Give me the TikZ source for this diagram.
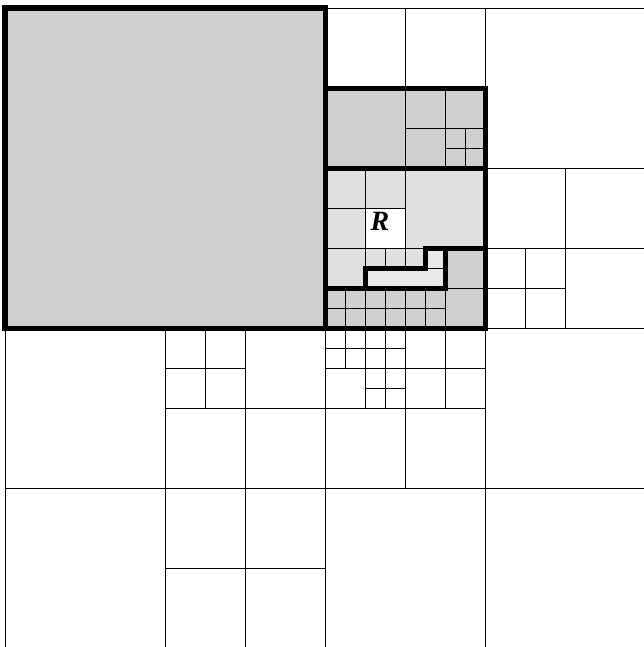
\documentclass[tikz,border=0pt]{standalone}
\usepackage{fontspec}
\newfontfamily\labelfont{Liberation Serif}
\definecolor{darkcell}{gray}{0.815}
\definecolor{lightcell}{gray}{0.88}
\definecolor{palecell}{gray}{0.915}
\begin{document}
\begin{tikzpicture}[
  x=20bp,y=-20bp,
  cell/.style={draw=black,line width=1bp},
  region/.style={draw=black,line width=5bp,line join=miter},
  lbl/.style={font=\labelfont\bfseries\itshape\fontsize{28}{28}\selectfont,inner sep=0pt}
]
  \useasboundingbox (-0.25,-0.4) rectangle (31.95,31.95);

  \fill[darkcell] (0,0) rectangle (16,16);
  \fill[darkcell] (16,4) rectangle (24,8);
  \fill[lightcell] (16,8) rectangle (24,14);
  \fill[darkcell] (16,14) -- (22,14) -- (22,12) -- (24,12) -- (24,16) -- (16,16) -- cycle;
  \fill[palecell] (18,13) -- (21,13) -- (21,12) -- (22,12) -- (22,14) -- (18,14) -- cycle;
  \fill[white] (18,10) rectangle (20,12);

  \foreach \x/\y/\s in {24/0/8,0/16/8,0/24/8,24/16/8,16/24/8,24/24/8,
      16/0/4,20/0/4,16/4/4,20/8/4,24/8/4,28/8/4,28/12/4,12/16/4,8/20/4,12/20/4,
      8/24/4,12/24/4,8/28/4,12/28/4,16/20/4,20/20/4,
      20/4/2,22/4/2,20/6/2,16/8/2,18/8/2,16/10/2,18/10/2,16/12/2,22/12/2,22/14/2,
      24/12/2,26/12/2,24/14/2,26/14/2,8/16/2,10/16/2,8/18/2,10/18/2,16/18/2,
      20/16/2,22/16/2,20/18/2,22/18/2}
    \draw[cell] (\x,\y) rectangle +(\s,\s);
  \foreach \x/\y in {22/6,23/6,22/7,23/7,18/12,19/12,20/12,21/12,18/18,19/18,18/19,19/19}
    \draw[cell] (\x,\y) rectangle +(1,1);
  \foreach \x in {16,...,21}
    \foreach \y in {14,15}
      \draw[cell] (\x,\y) rectangle +(1,1);
  \foreach \x in {16,...,19}
    \foreach \y in {16,17}
      \draw[cell] (\x,\y) rectangle +(1,1);

  \draw[region] (0,0) rectangle (16,16);
  \draw[region] (16,4) rectangle (24,8);
  \draw[region] (16,8) rectangle (24,16);
  \draw[region] (16,14) -- (22,14) -- (22,12) -- (24,12);
  \draw[region] (22,12) -- (21,12) -- (21,13) -- (18,13) -- (18,14);

  \node[lbl] (r) at (18.75,10.65) {R};
\end{tikzpicture}
\end{document}
